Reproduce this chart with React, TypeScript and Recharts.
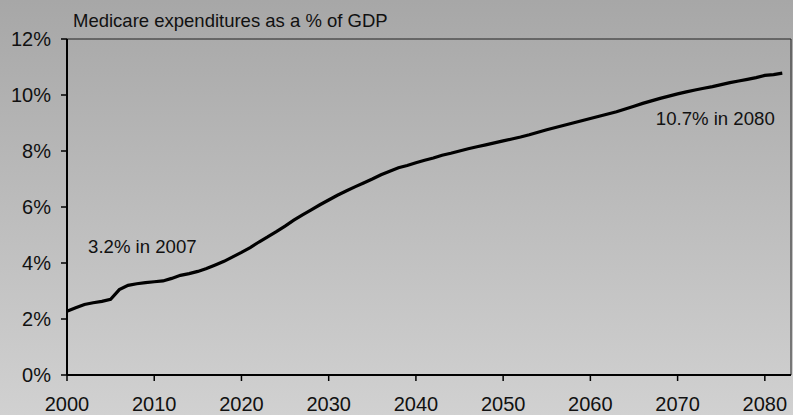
import {
  LineChart,
  Line,
  XAxis,
  YAxis,
  ReferenceArea,
  ReferenceDot,
} from "recharts";

const years = [
  2000, 2001, 2002, 2003, 2004, 2005, 2006, 2007, 2008, 2009,
  2010, 2011, 2012, 2013, 2014, 2015, 2016, 2017, 2018, 2019,
  2020, 2021, 2022, 2023, 2024, 2025, 2026, 2027, 2028, 2029,
  2030, 2031, 2032, 2033, 2034, 2035, 2036, 2037, 2038, 2039,
  2040, 2041, 2042, 2043, 2044, 2045, 2046, 2047, 2048, 2049,
  2050, 2051, 2052, 2053, 2054, 2055, 2056, 2057, 2058, 2059,
  2060, 2061, 2062, 2063, 2064, 2065, 2066, 2067, 2068, 2069,
  2070, 2071, 2072, 2073, 2074, 2075, 2076, 2077, 2078, 2079,
  2080, 2081, 2082,
];

// Medicare spending, % of GDP
const pctGdp = [
  2.28, 2.4, 2.52, 2.58, 2.63, 2.7, 3.05, 3.2, 3.26, 3.3,
  3.33, 3.36, 3.45, 3.56, 3.62, 3.7, 3.8, 3.93, 4.06, 4.22,
  4.38, 4.55, 4.75, 4.93, 5.12, 5.32, 5.53, 5.72, 5.9, 6.08,
  6.25, 6.42, 6.57, 6.72, 6.86, 7.0, 7.15, 7.28, 7.4, 7.48,
  7.58, 7.67, 7.75, 7.85, 7.92, 8.0, 8.08, 8.15, 8.22, 8.29,
  8.36, 8.43, 8.5, 8.58, 8.67, 8.76, 8.84, 8.92, 9.0, 9.08,
  9.16, 9.24, 9.32, 9.4, 9.5, 9.6, 9.7, 9.79, 9.88, 9.96,
  10.04, 10.11, 10.18, 10.24, 10.3, 10.37, 10.44, 10.5, 10.56, 10.62,
  10.7, 10.73, 10.78,
];

const xTicks = [2000, 2010, 2020, 2030, 2040, 2050, 2060, 2070, 2080];
const yTicks = [0, 2, 4, 6, 8, 10, 12];

const title = "Medicare expenditures as a % of GDP";
const callouts = [
  { year: 2007, value: 3.2, text: "3.2% in 2007", dx: -40, dy: -32 },
  { year: 2080, value: 10.7, text: "10.7% in 2080", dx: -109, dy: 50 },
];

const FONT = "Arial, 'Liberation Sans', sans-serif";

const data = years.map((year, i) => ({ year, pct: pctGdp[i] }));

export default function App() {
  return (
    <div
      style={{
        position: "absolute",
        left: 0,
        top: 0,
        width: 793,
        height: 415,
        background: "linear-gradient(to bottom, #a7a7a7, #d1d1d1)",
        fontFamily: FONT,
      }}
    >
      <div
        style={{
          position: "absolute",
          left: 73,
          top: 12,
          fontSize: 18.5,
          lineHeight: "18px",
          color: "#111",
          whiteSpace: "nowrap",
        }}
      >
        {title}
      </div>

      <LineChart
        width={793}
        height={415}
        data={data}
        margin={{ top: 39, right: 2, left: 0, bottom: 0 }}
      >
        <XAxis
          dataKey="year"
          type="number"
          domain={[2000, 2083]}
          ticks={xTicks}
          allowDataOverflow
          height={40}
          tickSize={6}
          tickMargin={16}
          axisLine={{ stroke: "#000", strokeWidth: 2 }}
          tickLine={{ stroke: "#000", strokeWidth: 1.5 }}
          tick={{ fontSize: 20, fill: "#111", fontFamily: FONT }}
        />
        <YAxis
          domain={[0, 12]}
          ticks={yTicks}
          width={67}
          tickSize={6}
          tickMargin={10}
          tickFormatter={(v: number) => `${v}%`}
          axisLine={{ stroke: "#000", strokeWidth: 2 }}
          tickLine={{ stroke: "#000", strokeWidth: 1.5 }}
          tick={{ fontSize: 20, fill: "#111", fontFamily: FONT }}
        />

        {/* thin frame on top and right of the plot */}
        <ReferenceArea
          x1={2000}
          x2={2083}
          y1={0}
          y2={12}
          fill="none"
          stroke="#222"
          strokeWidth={1}
        />

        <Line
          dataKey="pct"
          type="linear"
          stroke="#000"
          strokeWidth={3.2}
          dot={false}
          isAnimationActive={false}
        />

        {callouts.map((c) => (
          <ReferenceDot
            key={c.text}
            x={c.year}
            y={c.value}
            r={2}
            fill="none"
            stroke="none"
            label={(props: any) => {
              const vb = props.viewBox || {};
              const cx = (vb.x ?? 0) + (vb.width ?? 0) / 2;
              const cy = (vb.y ?? 0) + (vb.height ?? 0) / 2;
              return (
                <text
                  x={cx + c.dx}
                  y={cy + c.dy}
                  fontSize={18.6}
                  fontFamily={FONT}
                  fill="#111"
                  textAnchor="start"
                >
                  {c.text}
                </text>
              );
            }}
          />
        ))}
      </LineChart>
    </div>
  );
}
